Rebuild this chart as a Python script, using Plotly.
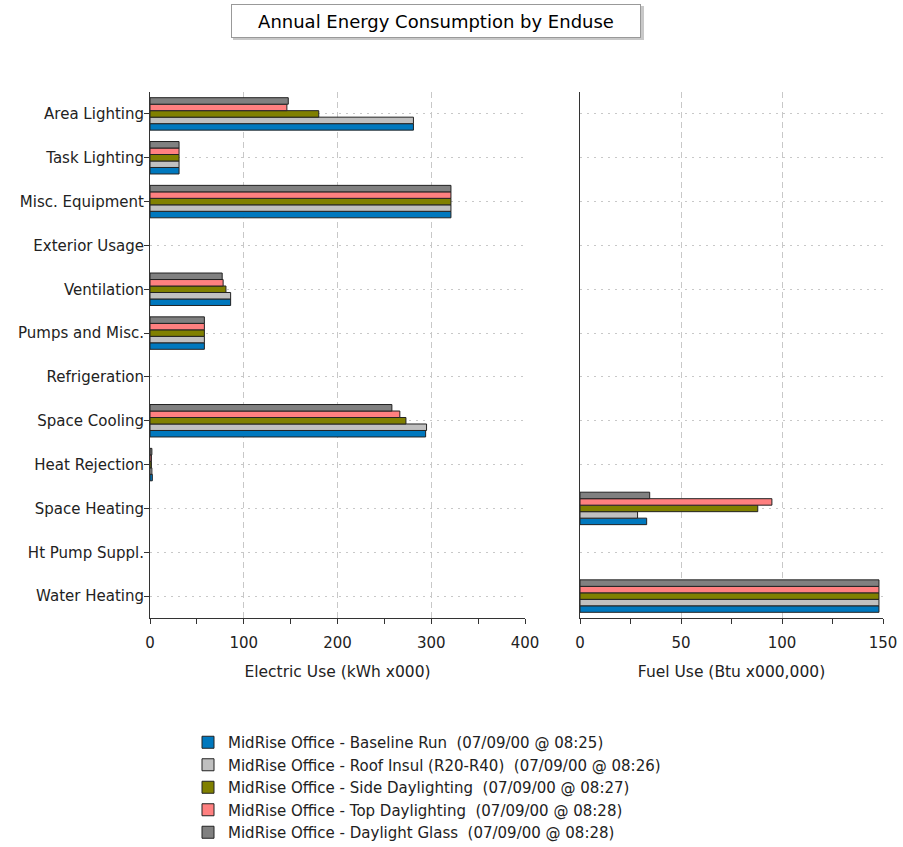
import plotly.graph_objects as go
from plotly.subplots import make_subplots

W, H = 903, 847

categories = ["Area Lighting", "Task Lighting", "Misc. Equipment", "Exterior Usage",
              "Ventilation", "Pumps and Misc.", "Refrigeration", "Space Cooling",
              "Heat Rejection", "Space Heating", "Ht Pump Suppl.", "Water Heating"]

series_names = [
    "MidRise Office - Baseline Run \u00a0(07/09/00 @ 08:25)",
    "MidRise Office - Roof Insul (R20-R40) \u00a0(07/09/00 @ 08:26)",
    "MidRise Office - Side Daylighting \u00a0(07/09/00 @ 08:27)",
    "MidRise Office - Top Daylighting \u00a0(07/09/00 @ 08:28)",
    "MidRise Office - Daylight Glass \u00a0(07/09/00 @ 08:28)",
]

electric_baseline = [281, 31, 321, 0, 86, 58, 0, 294, 2.5, 0, 0, 0]
electric_roof     = [281, 31, 321, 0, 86, 58, 0, 295, 2.0, 0, 0, 0]
electric_side     = [180, 31, 321, 0, 81, 58, 0, 273, 1.5, 0, 0, 0]
electric_top      = [146, 31, 321, 0, 78, 58, 0, 266.5, 1.5, 0, 0, 0]
electric_glass    = [147.5, 31, 321, 0, 77, 58, 0, 258, 2.0, 0, 0, 0]

fuel_baseline = [0, 0, 0, 0, 0, 0, 0, 0, 0, 33, 0, 148]
fuel_roof     = [0, 0, 0, 0, 0, 0, 0, 0, 0, 28.5, 0, 148]
fuel_side     = [0, 0, 0, 0, 0, 0, 0, 0, 0, 88, 0, 148]
fuel_top      = [0, 0, 0, 0, 0, 0, 0, 0, 0, 95, 0, 148]
fuel_glass    = [0, 0, 0, 0, 0, 0, 0, 0, 0, 34.5, 0, 148]

electric = [electric_baseline, electric_roof, electric_side, electric_top, electric_glass]
fuel = [fuel_baseline, fuel_roof, fuel_side, fuel_top, fuel_glass]
colors = ["#0078BE", "#C0C0C0", "#808000", "#FF8080", "#808080"]

FONT = "DejaVu Sans"
TXT = "#222222"


def nz(vals):
    # zero-valued enduses draw no bar at all
    return [v if v else None for v in vals]


fig = make_subplots(rows=1, cols=2, shared_yaxes=False)

for i, name in enumerate(series_names):
    fig.add_trace(go.Bar(
        y=categories, x=nz(electric[i]), orientation="h", name=name,
        marker=dict(color=colors[i], line=dict(color="#222222", width=1)),
        legendgroup=str(i), showlegend=True, hoverinfo="x+y"),
        row=1, col=1)
for i, name in enumerate(series_names):
    fig.add_trace(go.Bar(
        y=categories, x=nz(fuel[i]), orientation="h", name=name,
        marker=dict(color=colors[i], line=dict(color="#222222", width=1)),
        legendgroup=str(i), showlegend=False, hoverinfo="x+y"),
        row=1, col=2)

ydom = [1 - 618 / H, 1 - 92 / H]
cat_order = categories[::-1]

xaxis_common = dict(showline=True, linecolor="#333333", linewidth=1,
                    ticks="outside", ticklen=5, tickcolor="#333333",
                    tickfont=dict(family=FONT, size=15, color=TXT),
                    showgrid=True, gridcolor="#c8c8c8", griddash="6px,4px", gridwidth=1,
                    zeroline=False, automargin=False, fixedrange=True,
                    ticklabelstandoff=6)
yaxis_common = dict(domain=ydom, type="category", categoryorder="array", categoryarray=cat_order,
                    range=[-0.5, 11.5], showline=True, linecolor="#333333", linewidth=1,
                    showgrid=True, gridcolor="#c8c8c8", griddash="2px,5px", gridwidth=1,
                    automargin=False, fixedrange=True)

fig.update_layout(
    width=W, height=H, autosize=False,
    margin=dict(l=0, r=0, t=0, b=0, autoexpand=False),
    paper_bgcolor="white", plot_bgcolor="white",
    barmode="group", bargap=0.26, bargroupgap=0,
    font=dict(family=FONT, size=15, color=TXT),
    xaxis=dict(domain=[150 / W, 525 / W], range=[0, 400], dtick=100,
               minor=dict(dtick=50, ticks="outside", ticklen=5, tickcolor="#333333", showgrid=False),
               title=dict(text="Electric Use (kWh x000)", font=dict(family=FONT, size=15.5, color=TXT)),
               **xaxis_common),
    xaxis2=dict(domain=[580 / W, 883 / W], range=[0, 150], dtick=50,
                minor=dict(dtick=25, ticks="outside", ticklen=5, tickcolor="#333333", showgrid=False),
                title=dict(text="Fuel Use (Btu x000,000)", font=dict(family=FONT, size=15.5, color=TXT)),
                **xaxis_common),
    yaxis=dict(ticks="outside", ticklen=5, tickcolor="#333333", ticklabelstandoff=-3,
               tickfont=dict(family=FONT, size=15, color=TXT), **yaxis_common),
    yaxis2=dict(ticks="", showticklabels=False, **yaxis_common),
    legend=dict(x=188 / W, y=1 - 726 / H, xanchor="left", yanchor="top",
                font=dict(family=FONT, size=15, color=TXT),
                bgcolor="rgba(0,0,0,0)", traceorder="normal", tracegroupgap=0),
    showlegend=True,
)

# title box with a soft shadow
fig.add_shape(type="rect", xref="paper", yref="paper",
              x0=233 / W, x1=644 / W, y0=1 - 40 / H, y1=1 - 6 / H,
              fillcolor="#c8c8c8", line=dict(width=0), layer="below")
fig.add_annotation(text="Annual Energy Consumption by Enduse",
                   xref="paper", yref="paper", x=436 / W, y=1 - 21 / H,
                   xanchor="center", yanchor="middle", showarrow=False,
                   font=dict(family=FONT, size=18, color="#000000"),
                   width=402, height=26, borderpad=3, borderwidth=1,
                   bordercolor="#999999", bgcolor="white")

post = "document.body.style.margin='0';document.documentElement.style.overflow='hidden';"
fig.write_html("out.html", post_script=post, config={"displayModeBar": False})
